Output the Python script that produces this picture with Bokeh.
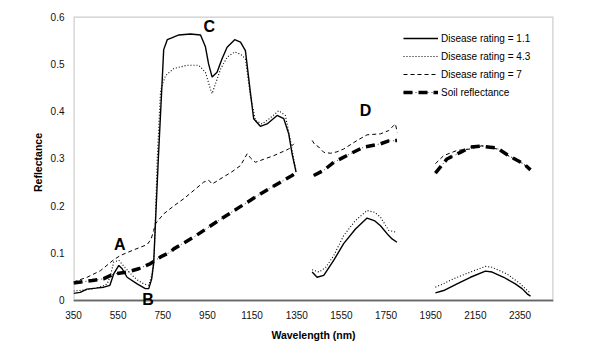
import numpy as np
from bokeh.plotting import figure
from bokeh.models import (Range1d, FixedTicker, Legend, LegendItem, Label, Span, BoxAnnotation,
                          CustomJSTickFormatter, ColumnDataSource)
from bokeh.embed import file_html
from bokeh.resources import INLINE

NAN = float("nan")

# ---- data (wavelength nm, reflectance); NaN separates spectral segments ----
wl_11 = [350, 380, 410, 450, 486, 513, 530, 553, 568, 590, 635, 672, 687, 700, 709, 730, 754,
         770, 790, 822, 874, 919, 941, 955, 971, 993, 1015, 1038, 1072, 1098, 1120, 1143,
         1157, 1187, 1217, 1262, 1292, 1314, 1329, 1347, NAN,
         1419, 1441, 1471, 1516, 1560, 1613, 1665, 1700, 1725, 1762, 1777, 1799, NAN,
         1971, 2008, 2068, 2128, 2195, 2225, 2277, 2329, 2359, 2382, 2397]
rf_11 = [0.015, 0.017, 0.024, 0.026, 0.028, 0.032, 0.056, 0.074, 0.067, 0.049, 0.035, 0.025,
         0.025, 0.045, 0.078, 0.30, 0.530, 0.551, 0.555, 0.561, 0.563, 0.561, 0.536, 0.500,
         0.472, 0.482, 0.510, 0.535, 0.551, 0.546, 0.528, 0.437, 0.384, 0.368, 0.373, 0.391,
         0.384, 0.352, 0.310, 0.271, NAN,
         0.060, 0.049, 0.053, 0.085, 0.120, 0.151, 0.174, 0.168, 0.158, 0.137, 0.130, 0.123, NAN,
         0.016, 0.021, 0.035, 0.049, 0.062, 0.060, 0.049, 0.035, 0.025, 0.014, 0.009]

wl_43 = [350, 400, 441, 480, 501, 516, 530, 553, 580, 613, 640, 665, 687, 702, 712, 725, 740,
         762, 799, 859, 911, 941, 963, 971, 986, 1010, 1038, 1072, 1100, 1120, 1143, 1165,
         1195, 1230, 1269, 1299, 1322, 1337, 1347, NAN,
         1419, 1450, 1480, 1516, 1560, 1613, 1665, 1700, 1725, 1762, 1780, 1799, NAN,
         1971, 2010, 2053, 2128, 2195, 2225, 2292, 2352, 2382, 2397]
rf_43 = [0.020, 0.022, 0.025, 0.030, 0.035, 0.053, 0.081, 0.085, 0.070, 0.053, 0.042, 0.035,
         0.032, 0.056, 0.100, 0.300, 0.444, 0.475, 0.490, 0.497, 0.497, 0.482, 0.447, 0.437,
         0.458, 0.490, 0.514, 0.525, 0.520, 0.510, 0.430, 0.380, 0.373, 0.385, 0.401, 0.391,
         0.338, 0.296, 0.275, NAN,
         0.065, 0.060, 0.070, 0.095, 0.137, 0.169, 0.190, 0.186, 0.176, 0.148, 0.146, 0.144, NAN,
         0.028, 0.036, 0.046, 0.060, 0.072, 0.070, 0.056, 0.035, 0.021, 0.016]

wl_7 = [350, 411, 471, 530, 560, 620, 680, 698, 709, 717, 754, 800, 844, 890, 933, 956, 971,
        1022, 1060, 1098, 1128, 1145, 1165, 1200, 1247, 1290, 1314, 1337, NAN,
        1419, 1430, 1449, 1471, 1501, 1530, 1560, 1620, 1665, 1725, 1762, 1785, 1792, 1800, NAN,
        1971, 2008, 2068, 2128, 2180, 2247, 2307, 2352, 2397]
rf_7 = [0.039, 0.049, 0.063, 0.086, 0.095, 0.107, 0.118, 0.130, 0.148, 0.162, 0.183, 0.200,
        0.215, 0.233, 0.250, 0.254, 0.246, 0.261, 0.272, 0.285, 0.310, 0.300, 0.292, 0.298,
        0.306, 0.315, 0.320, 0.331, NAN,
        0.338, 0.330, 0.324, 0.313, 0.311, 0.314, 0.320, 0.338, 0.350, 0.352, 0.359, 0.370,
        0.373, 0.355, NAN,
        0.289, 0.306, 0.317, 0.320, 0.327, 0.320, 0.303, 0.292, 0.278]

wl_soil = [350, 434, 486, 530, 590, 642, 695, 740, 784, 799, 889, 978, 1083, 1187, 1277, 1329,
           1347, NAN,
           1426, 1471, 1516, 1590, 1650, 1725, 1762, 1799, NAN,
           1971, 2023, 2083, 2128, 2180, 2247, 2299, 2366, 2397]
rf_soil = [0.037, 0.042, 0.046, 0.056, 0.060, 0.067, 0.078, 0.092, 0.102, 0.109, 0.134, 0.162,
           0.194, 0.225, 0.250, 0.264, 0.270, NAN,
           0.264, 0.275, 0.292, 0.310, 0.324, 0.331, 0.337, 0.338, NAN,
           0.269, 0.299, 0.313, 0.324, 0.326, 0.322, 0.306, 0.289, 0.276]

x_ticks = [350, 550, 750, 950, 1150, 1350, 1550, 1750, 1950, 2150, 2350]
y_ticks = [0, 0.1, 0.2, 0.3, 0.4, 0.5, 0.6]

series_labels = ["Disease rating = 1.1", "Disease rating = 4.3",
                 "Disease rating = 7", "Soil reflectance"]

ann_text = ["A", "B", "C", "D"]
ann_wl = [557, 684, 958, 1658]
ann_rf = [0.118, 0.001, 0.578, 0.402]

X_MIN, X_MAX, Y_MIN, Y_MAX = 350, 2500, 0, 0.6
Y_PAD = 0.017   # frame extends a little below 0 so the "B" letter is not clipped

FONT = "Liberation Sans"

p = figure(width=602, height=354, x_range=Range1d(X_MIN, X_MAX),
           y_range=Range1d(Y_MIN - Y_PAD, Y_MAX),
           output_backend="svg", toolbar_location=None,
           min_border_left=73, min_border_right=49, min_border_top=16, min_border_bottom=46)
p.grid.visible = False
p.outline_line_color = None
p.background_fill_color = "white"
p.border_fill_color = "white"

def src(x, y):
    return ColumnDataSource(dict(x=np.array(x, dtype=float), y=np.array(y, dtype=float)))

r11 = p.line("x", "y", source=src(wl_11, rf_11), line_color="black", line_width=1.4)
r43 = p.line("x", "y", source=src(wl_43, rf_43), line_color="black", line_width=1.1,
             line_dash="1 2")
r7 = p.line("x", "y", source=src(wl_7, rf_7), line_color="black", line_width=1.0,
            line_dash="4 3")
rs_thin = p.line("x", "y", source=src(wl_soil, rf_soil), line_color="black", line_width=0.8,
                 line_dash="1 3")
rs_thick = p.line("x", "y", source=src(wl_soil, rf_soil), line_color="black", line_width=3.5,
                  line_dash="9 6")

# plot-area box (left/top/right) and the x axis line at reflectance 0
p.add_layout(BoxAnnotation(left=X_MIN, right=X_MAX, bottom=Y_MIN, top=Y_MAX,
                           fill_alpha=0, line_color="#555555", line_width=2.4,
                           level="overlay"))
p.add_layout(Span(location=Y_MIN, dimension="width", line_color="#666666", line_width=1.6,
                  level="overlay"))

legend = Legend(items=[LegendItem(label=series_labels[0], renderers=[r11]),
                       LegendItem(label=series_labels[1], renderers=[r43]),
                       LegendItem(label=series_labels[2], renderers=[r7]),
                       LegendItem(label=series_labels[3], renderers=[rs_thin, rs_thick])],
                location=(330, 207))
legend.label_text_font = FONT
legend.label_text_font_size = "10px"
legend.label_text_color = "black"
legend.glyph_width = 35
legend.glyph_height = 18
legend.label_height = 18
legend.label_standoff = 3
legend.spacing = 0
legend.padding = 0
legend.margin = 0
legend.border_line_color = None
legend.background_fill_alpha = 0
p.add_layout(legend)

for t, xw, yr in zip(ann_text, ann_wl, ann_rf):
    p.add_layout(Label(x=xw, y=yr, text=t, text_font=FONT, text_font_style="bold",
                       text_font_size="16px", text_align="center", text_baseline="middle",
                       text_color="black", level="overlay"))

xa = p.xaxis[0]
xa.ticker = FixedTicker(ticks=x_ticks)
xa.major_tick_in = 0
xa.major_tick_out = 0
xa.major_tick_line_color = None
xa.minor_tick_line_color = None
xa.axis_line_color = None
xa.major_label_standoff = 2
xa.major_label_text_font = FONT
xa.major_label_text_font_size = "10px"
xa.major_label_text_color = "#111111"
xa.axis_label = "Wavelength (nm)"
xa.axis_label_text_font = FONT
xa.axis_label_text_font_style = "bold"
xa.axis_label_text_font_size = "10.5px"
xa.axis_label_text_color = "black"
xa.axis_label_standoff = 7

ya = p.yaxis[0]
ya.ticker = FixedTicker(ticks=y_ticks)
ya.formatter = CustomJSTickFormatter(code="return tick === 0 ? '0' : tick.toFixed(1);")
ya.major_tick_in = 0
ya.major_tick_out = 0
ya.major_tick_line_color = None
ya.minor_tick_line_color = None
ya.axis_line_color = None
ya.major_label_standoff = 9
ya.major_label_text_font = FONT
ya.major_label_text_font_size = "10px"
ya.major_label_text_color = "#111111"
ya.axis_label = "Reflectance"
ya.axis_label_text_font = FONT
ya.axis_label_text_font_style = "bold"
ya.axis_label_text_font_size = "10.5px"
ya.axis_label_text_color = "black"
ya.axis_label_standoff = 4

open("out.html", "w").write(file_html(p, INLINE))
